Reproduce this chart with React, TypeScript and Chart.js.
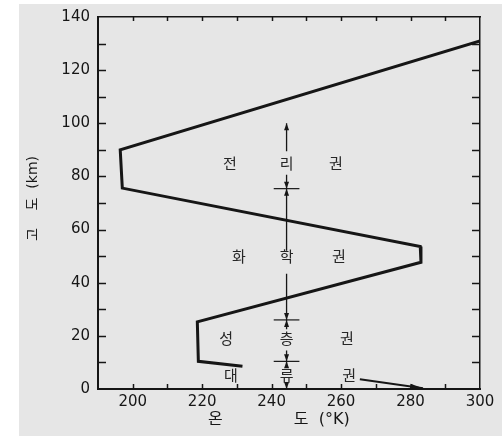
import { useEffect, useRef } from 'react';
import { Chart, registerables } from 'chart.js';

Chart.register(...registerables);

// Temperature profile of the atmosphere: temperature (°K) vs altitude (km)
const profileTemp = [300, 196.4, 197, 282.8, 283, 218.6, 218.9, 231.6];
const profileAlt = [131, 90, 75.6, 53.6, 47.7, 25.3, 10.4, 8.6];

// Short arrow near the surface (troposphere)
const surfaceTemp = [265.4, 283.6];
const surfaceAlt = [3.7, 0.3];

// Vertical layer-marker line with arrows and boundary crossbars
const markerTemp = 244.3;
const markerSegments: [number, number][] = [
  [100, 89.5],
  [80.6, 52],
  [43.4, 26],
  [26, 22.5],
  [14.5, 10.4],
  [10.4, 8],
  [2.6, 0],
];
const layerBoundaries = [75.4, 26, 10.4];
const crossbarHalf = 3.7;
const arrowUpTips = [100, 75.4, 26, 10.4];
const arrowDownTips = [75.4, 26, 10.4, 0];

// Layer names (one character per position)
const layerChars = [
  ['전', '리', '권'],
  ['화', '학', '권'],
  ['성', '층', '권'],
  ['대', '류', '권'],
];
const layerCharTemp = [
  [228.0, 244.3, 258.5],
  [230.6, 244.3, 259.4],
  [226.9, 244.3, 261.7],
  [228.3, 244.3, 262.3],
];
const layerAlt = [84.9, 50.0, 19.1, 5.2];

// Axes
const xMin = 190;
const xMax = 300;
const yMin = 0;
const yMax = 140;
const xLabelValues = [200, 220, 240, 260, 280, 300];
const yLabelValues = [0, 20, 40, 60, 80, 100, 120, 140];
const xTitle = '온              도  (°K)    ';
const yTitle = '  고    도  (km)';

const INK = '#161616';
const FONT = '"DejaVu Sans", "Noto Sans CJK KR", sans-serif';

export default function App() {
  const ref = useRef<HTMLCanvasElement>(null);

  useEffect(() => {
    const canvas = ref.current;
    if (!canvas) return;
    const pts = (xs: number[], ys: number[]) => xs.map((x, i) => ({ x, y: ys[i] }));

    const datasets: any[] = [
      {
        data: pts(profileTemp, profileAlt),
        showLine: true,
        borderColor: INK,
        borderWidth: 3,
        pointRadius: 0,
        borderJoinStyle: 'miter',
      },
      {
        data: pts(surfaceTemp, surfaceAlt),
        showLine: true,
        borderColor: INK,
        borderWidth: 2,
        pointRadius: 0,
      },
      ...markerSegments.map(([a, b]) => ({
        data: [
          { x: markerTemp, y: a },
          { x: markerTemp, y: b },
        ],
        showLine: true,
        borderColor: INK,
        borderWidth: 1.3,
        pointRadius: 0,
      })),
      ...layerBoundaries.map((b) => ({
        data: [
          { x: markerTemp - crossbarHalf, y: b },
          { x: markerTemp + crossbarHalf, y: b },
        ],
        showLine: true,
        borderColor: INK,
        borderWidth: 1.2,
        pointRadius: 0,
      })),
    ];

    const inwardTicks = {
      id: 'inwardTicks',
      afterDraw(chart: any) {
        const { ctx, chartArea } = chart;
        const { left, right, top, bottom } = chartArea;
        const xs = chart.scales.x;
        const ys = chart.scales.y;
        ctx.save();
        ctx.strokeStyle = INK;
        ctx.lineWidth = 1.5;
        const seg = (a: number, b: number, c: number, d: number) => {
          ctx.beginPath();
          ctx.moveTo(a, b);
          ctx.lineTo(c, d);
          ctx.stroke();
        };
        xs.ticks.forEach((t: any) => {
          if (t.value <= xMin || t.value >= xMax) return;
          const px = Math.round(xs.getPixelForValue(t.value)) + 0.5;
          seg(px, bottom, px, bottom - 5);
          seg(px, top, px, top + 4);
        });
        ys.ticks.forEach((t: any) => {
          if (t.value <= yMin || t.value >= yMax) return;
          const py = Math.round(ys.getPixelForValue(t.value)) + 0.5;
          seg(left, py, left + 8, py);
          seg(right, py, right - 8, py);
        });
        ctx.restore();
      },
    };

    const arrowsAndLabels = {
      id: 'arrowsAndLabels',
      afterDatasetsDraw(chart: any) {
        const { ctx } = chart;
        const xs = chart.scales.x;
        const ys = chart.scales.y;
        ctx.save();
        ctx.fillStyle = INK;
        const px = xs.getPixelForValue(markerTemp);
        const tri = (x: number, y: number, dir: number) => {
          ctx.beginPath();
          ctx.moveTo(x, y);
          ctx.lineTo(x - 2.5, y + dir * 7);
          ctx.lineTo(x + 2.5, y + dir * 7);
          ctx.closePath();
          ctx.fill();
        };
        arrowUpTips.forEach((v) => tri(px, ys.getPixelForValue(v), 1));
        arrowDownTips.forEach((v) => tri(px, ys.getPixelForValue(v), -1));

        // surface arrow head
        const x0 = xs.getPixelForValue(surfaceTemp[0]);
        const y0 = ys.getPixelForValue(surfaceAlt[0]);
        const x1 = xs.getPixelForValue(surfaceTemp[1]);
        const y1 = ys.getPixelForValue(surfaceAlt[1]);
        const ang = Math.atan2(y1 - y0, x1 - x0);
        const len = 13;
        const hw = 2.6;
        const bx = x1 - Math.cos(ang) * len;
        const by = y1 - Math.sin(ang) * len;
        ctx.beginPath();
        ctx.moveTo(x1, y1);
        ctx.lineTo(bx - Math.sin(ang) * hw, by + Math.cos(ang) * hw);
        ctx.lineTo(bx + Math.sin(ang) * hw, by - Math.cos(ang) * hw);
        ctx.closePath();
        ctx.fill();

        // layer names
        ctx.fillStyle = '#262626';
        ctx.font = '15px "Noto Sans CJK KR", sans-serif';
        ctx.textAlign = 'center';
        ctx.textBaseline = 'middle';
        layerChars.forEach((row, i) => {
          row.forEach((ch, j) => {
            ctx.fillText(ch, xs.getPixelForValue(layerCharTemp[i][j]), ys.getPixelForValue(layerAlt[i]));
          });
        });
        ctx.restore();
      },
    };

    const chart = new Chart(canvas, {
      type: 'scatter',
      data: { datasets },
      options: {
        animation: false,
        responsive: false,
        maintainAspectRatio: false,
        devicePixelRatio: 1,
        events: [],
        layout: { padding: 0 },
        plugins: { legend: { display: false }, tooltip: { enabled: false } },
        scales: {
          x: {
            type: 'linear',
            position: 'bottom',
            min: xMin,
            max: xMax,
            afterFit: (s: any) => {
              s.height = 48;
            },
            ticks: {
              stepSize: 10,
              autoSkip: false,
              maxRotation: 0,
              padding: 4,
              color: INK,
              font: { family: FONT, size: 15 },
              callback: (v: any) => (xLabelValues.includes(Number(v)) ? String(v) : ''),
            },
            grid: { display: false, drawTicks: false },
            border: { display: true, color: INK, width: 2 },
            title: {
              display: true,
              text: xTitle,
              color: INK,
              font: { family: FONT, size: 16 },
              padding: { top: 0, bottom: 8 },
            },
          },
          y: {
            type: 'linear',
            position: 'left',
            min: yMin,
            max: yMax,
            afterFit: (s: any) => {
              s.width = 98;
            },
            ticks: {
              stepSize: 10,
              autoSkip: false,
              padding: 8,
              color: INK,
              font: { family: FONT, size: 15 },
              callback: (v: any) => (yLabelValues.includes(Number(v)) ? String(v) : ''),
            },
            grid: { display: false, drawTicks: false },
            border: { display: true, color: INK, width: 2 },
            title: {
              display: true,
              text: yTitle,
              color: INK,
              font: { family: FONT, size: 14 },
              padding: { top: 25, bottom: 0 },
            },
          },
          x2: {
            type: 'linear',
            position: 'top',
            min: xMin,
            max: xMax,
            afterFit: (s: any) => {
              s.height = 12;
            },
            ticks: { display: false },
            grid: { display: false, drawTicks: false },
            border: { display: true, color: INK, width: 1.5 },
          },
          y2: {
            type: 'linear',
            position: 'right',
            min: yMin,
            max: yMax,
            afterFit: (s: any) => {
              s.width = 22;
            },
            ticks: { display: false },
            grid: { display: false, drawTicks: false },
            border: { display: true, color: INK, width: 1.5 },
          },
        },
      } as any,
      plugins: [inwardTicks, arrowsAndLabels],
    });

    return () => chart.destroy();
  }, []);

  return (
    <div
      style={{
        position: 'fixed',
        left: 0,
        top: 0,
        width: 502,
        height: 437,
        background: '#ffffff',
        overflow: 'hidden',
      }}
    >
      <div
        style={{
          position: 'absolute',
          left: 19,
          top: 4,
          right: 0,
          bottom: 1,
          background: '#e6e6e6',
        }}
      />
      <canvas
        ref={ref}
        width={502}
        height={437}
        style={{ position: 'absolute', left: 0, top: 0, width: 502, height: 437 }}
      />
    </div>
  );
}
